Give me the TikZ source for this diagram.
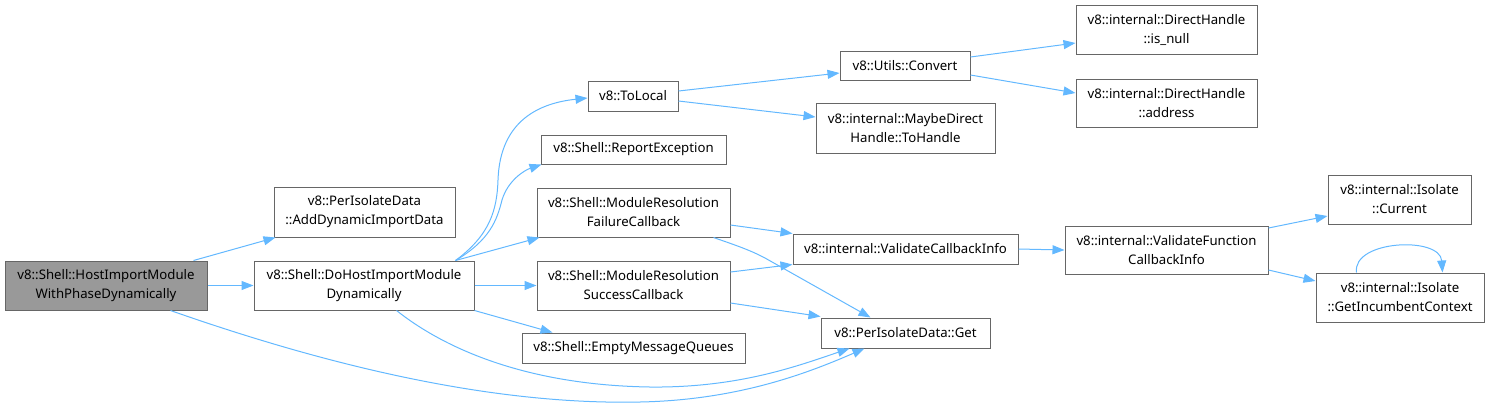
\documentclass[tikz,border=0pt]{standalone}
\usepackage{fontspec}
\setmainfont{Noto Sans}
\usetikzlibrary{arrows.meta,calc}
\definecolor{edgeblue}{HTML}{63B8FF}
\definecolor{boxgray}{HTML}{666666}
\definecolor{rootfill}{HTML}{999999}
\tikzset{
  box/.style={draw=boxgray, line width=1pt, fill=white, align=center, inner sep=0pt,
    font=\fontsize{13.2}{19}\selectfont, text=black},
  root/.style={box, fill=rootfill},
  call/.style={draw=edgeblue, line width=1pt, -{Triangle[length=12pt,width=9pt]}},
}
\begin{document}
\begin{tikzpicture}[x=1pt,y=-1pt]
\useasboundingbox (0,0) rectangle (1490,408);
\node[root, minimum width=202pt, minimum height=49pt] (A) at (106,285.5) {v8::Shell::HostImportModule\\WithPhaseDynamically};
\node[box, minimum width=181pt, minimum height=50pt] (B) at (364.5,212) {v8::PerIsolateData\\::AddDynamicImportData};
\node[box, minimum width=220pt, minimum height=49pt] (C) at (364,285.5) {v8::Shell::DoHostImportModule\\Dynamically};
\node[box, minimum width=90pt, minimum height=30pt] (TL) at (633,96) {v8::ToLocal};
\node[box, minimum width=185pt, minimum height=29pt] (RE) at (633.5,149.5) {v8::Shell::ReportException};
\node[box, minimum width=193pt, minimum height=49pt] (FC) at (633.5,212.5) {v8::Shell::ModuleResolution\\FailureCallback};
\node[box, minimum width=193pt, minimum height=49pt] (SC) at (633.5,285.5) {v8::Shell::ModuleResolution\\SuccessCallback};
\node[box, minimum width=223pt, minimum height=30pt] (EM) at (633.5,348) {v8::Shell::EmptyMessageQueues};
\node[box, minimum width=130pt, minimum height=29pt] (CV) at (905,65.5) {v8::Utils::Convert};
\node[box, minimum width=179pt, minimum height=50pt] (MD) at (905.5,128) {v8::internal::MaybeDirect\\Handle::ToHandle};
\node[box, minimum width=225pt, minimum height=30pt] (VC) at (905.5,249) {v8::internal::ValidateCallbackInfo};
\node[box, minimum width=169pt, minimum height=30pt] (GT) at (905.5,333) {v8::PerIsolateData::Get};
\node[box, minimum width=181pt, minimum height=49pt] (IN) at (1166.5,29.5) {v8::internal::DirectHandle\\::is\_null};
\node[box, minimum width=181pt, minimum height=48pt] (AD) at (1166.5,103) {v8::internal::DirectHandle\\::address};
\node[box, minimum width=203pt, minimum height=48pt] (VF) at (1166.5,250) {v8::internal::ValidateFunction\\CallbackInfo};
\node[box, minimum width=143pt, minimum height=49pt] (CU) at (1399.5,199.5) {v8::internal::Isolate\\::Current};
\node[box, minimum width=168pt, minimum height=49pt] (GI) at (1400,297.5) {v8::internal::Isolate\\::GetIncumbentContext};

\draw[call] ($(A.north east)+(-14,0)$) -- ($(B.south west)+(2,0)$);
\draw[call] (A.east) -- (C.west);
\draw[call] ($(A.south east)+(-37,0)$) .. controls (340,370) and (500,405) .. (640,402) .. controls (740,400) and (810,372) .. ($(GT.south west)+(44,0)$);
\draw[call] ($(C.north east)+(-19,0)$) .. controls (490,235) and (497,210) .. (498,180) .. controls (500,120) and (540,103) .. ($(TL.west)+(0,2)$);
\draw[call] ($(C.north east)+(-19,0)$) .. controls (490,240) and (497,220) .. (502,200) .. controls (508,180) and (525,170) .. ($(RE.south west)+(1,0)$);
\draw[call] ($(C.north east)+(-19,0)$) -- ($(FC.south west)+(3,0)$);
\draw[call] (C.east) -- (SC.west);
\draw[call] (C.south east) -- ($(EM.north west)+(31,0)$);
\draw[call] ($(C.south west)+(143,0)$) .. controls (440,345) and (520,385) .. (650,387) .. controls (740,388) and (800,365) .. ($(GT.south west)+(29,0)$);
\draw[call] ($(TL.east)+(0,-5)$) -- ($(CV.west)+(0,7.5)$);
\draw[call] ($(TL.east)+(0,5)$) -- ($(MD.west)+(0,-11)$);
\draw[call] ($(CV.east)+(0,-8.5)$) -- ($(IN.west)+(0,13.5)$);
\draw[call] ($(CV.east)+(0,9.5)$) -- ($(AD.west)+(0,-10)$);
\draw[call] ($(FC.east)+(0,12.5)$) -- (VC.north west);
\draw[call] ($(FC.south east)+(-17,0)$) .. controls (735,245) and (750,250) .. (765,258) -- ($(GT.north west)+(50,0)$);
\draw[call] ($(SC.east)+(0,-13.5)$) -- (VC.south west);
\draw[call] ($(SC.east)+(0,17.5)$) -- ($(GT.north west)+(0,-1)$);
\draw[call] (VC.east) -- (VF.west);
\draw[call] ($(VF.east)+(0,-22)$) -- ($(CU.west)+(0,16.5)$);
\draw[call] ($(VF.east)+(0,20)$) -- ($(GI.west)+(0,-16.5)$);
\draw[call] ($(GI.north west)+(41,0)$) .. controls (1352,240) and (1440,236) .. ($(GI.north west)+(127,0)$);
\end{tikzpicture}
\end{document}
